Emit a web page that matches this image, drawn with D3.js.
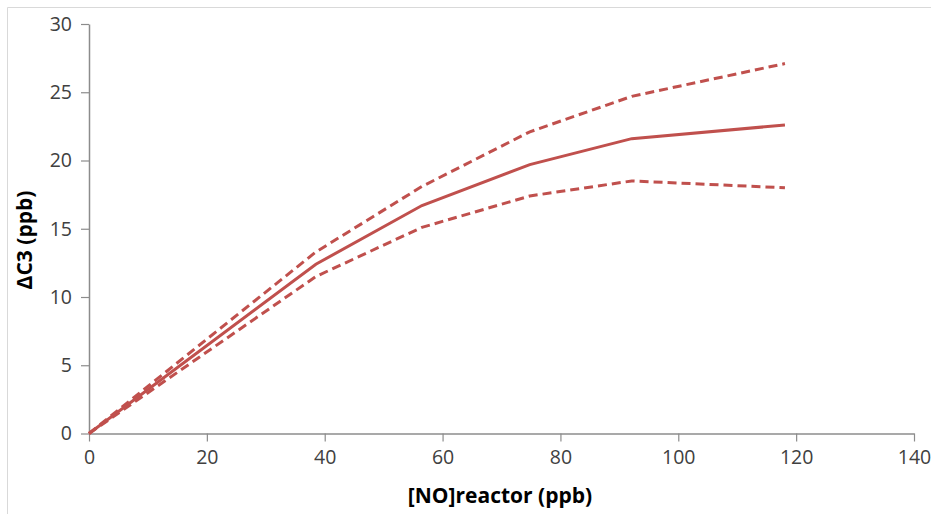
<!DOCTYPE html>
<html><head><meta charset="utf-8">
<script src="https://cdn.jsdelivr.net/npm/d3@7"></script>
<style>body{margin:0;background:#fff}svg{display:block}</style>
</head><body>
<script>
const xValues = [0, 38.5, 56.5, 74.8, 92.1, 118.1];
const central = [0, 12.4, 16.7, 19.7, 21.6, 22.6];
const upper   = [0, 13.3, 18.1, 22.1, 24.7, 27.1];
const lower   = [0, 11.5, 15.1, 17.4, 18.5, 18.0];
const xTicks = [0, 20, 40, 60, 80, 100, 120, 140];
const yTicks = [0, 5, 10, 15, 20, 25, 30];

const W = 931, H = 514;
const svg = d3.select("body").append("svg").attr("width", W).attr("height", H);
// frame
svg.append("path").attr("d", `M7.5,${H} V7.5 H${W}`).attr("fill","none").attr("stroke","#d9d9d9").attr("stroke-width",1);

const x = d3.scaleLinear().domain([0,140]).range([89,914]);
const y = d3.scaleLinear().domain([0,30]).range([433.5,24]);
const font = "'Open Sans', sans-serif";

const xa = svg.append("g").attr("transform","translate(0,433.5)")
  .call(d3.axisBottom(x).tickValues(xTicks).tickSize(8).tickPadding(9).tickSizeOuter(0));
const ya = svg.append("g").attr("transform","translate(89,0)")
  .call(d3.axisLeft(y).tickValues(yTicks).tickSize(8).tickPadding(9).tickSizeOuter(0));
[xa, ya].forEach(a => {
  a.select(".domain").attr("stroke","#8c8c8c").attr("stroke-width",1.5);
  a.selectAll(".tick line").attr("stroke","#8c8c8c").attr("stroke-width",1.2);
  a.selectAll("text").attr("font-family",font).attr("font-size",19.5).attr("fill","#404040");
});

const line = d3.line().x((d,i)=>x(xValues[i])).y(d=>y(d));
const color = "#C0504D";
svg.append("path").datum(upper).attr("d",line).attr("fill","none").attr("stroke",color)
  .attr("stroke-width",3).attr("stroke-dasharray","9,5");
svg.append("path").datum(lower).attr("d",line).attr("fill","none").attr("stroke",color)
  .attr("stroke-width",3).attr("stroke-dasharray","9,5");
svg.append("path").datum(central).attr("d",line).attr("fill","none").attr("stroke",color)
  .attr("stroke-width",3);

svg.append("text").attr("x",500).attr("y",503).attr("text-anchor","middle")
  .attr("font-family",font).attr("font-weight","bold").attr("font-size",21).attr("fill","#000")
  .text("[NO]reactor (ppb)");
svg.append("text").attr("transform","translate(32,240) rotate(-90)").attr("text-anchor","middle")
  .attr("font-family",font).attr("font-weight","bold").attr("font-size",21).attr("fill","#000")
  .text("ΔC3 (ppb)");
</script>
</body></html>
